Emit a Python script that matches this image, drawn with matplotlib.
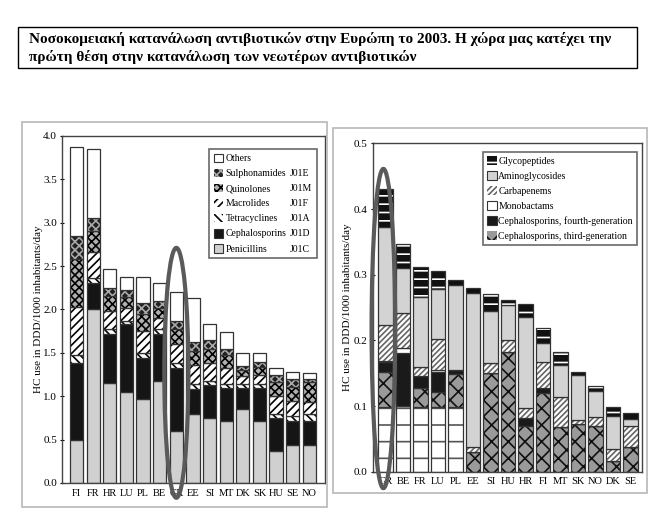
import matplotlib
matplotlib.use('Agg')
import matplotlib.pyplot as plt
import numpy as np
from matplotlib.patches import Patch, Rectangle, Ellipse

plt.rcParams['font.family'] = ['Liberation Serif', 'DejaVu Serif']
plt.rcParams['hatch.linewidth'] = 1.2

# Left chart: total hospital consumption by class (DDD/1000 inhabitants/day)
left_countries = ['FI', 'FR', 'HR', 'LU', 'PL', 'BE', 'GR', 'EE', 'SI', 'MT', 'DK', 'SK', 'HU', 'SE', 'NO']
penicillins = [0.50, 2.00, 1.15, 1.05, 0.97, 1.18, 0.60, 0.80, 0.75, 0.71, 0.85, 0.71, 0.37, 0.44, 0.44]
cephalosporins = [0.88, 0.31, 0.57, 0.78, 0.47, 0.54, 0.73, 0.28, 0.38, 0.39, 0.25, 0.39, 0.38, 0.28, 0.27]
tetracyclines = [0.10, 0.05, 0.06, 0.04, 0.06, 0.05, 0.05, 0.06, 0.05, 0.04, 0.04, 0.04, 0.05, 0.05, 0.08]
macrolides = [0.55, 0.30, 0.20, 0.15, 0.25, 0.13, 0.22, 0.22, 0.20, 0.18, 0.09, 0.11, 0.20, 0.18, 0.14]
quinolones = [0.55, 0.25, 0.17, 0.12, 0.20, 0.12, 0.17, 0.16, 0.17, 0.15, 0.07, 0.09, 0.16, 0.16, 0.23]
sulphonamides = [0.27, 0.15, 0.10, 0.08, 0.12, 0.08, 0.10, 0.10, 0.10, 0.08, 0.05, 0.06, 0.09, 0.09, 0.04]
others = [1.02, 0.79, 0.22, 0.16, 0.30, 0.20, 0.33, 0.51, 0.18, 0.19, 0.15, 0.10, 0.08, 0.08, 0.07]
left_names = ['Others', 'Sulphonamides', 'Quinolones', 'Macrolides', 'Tetracyclines', 'Cephalosporins', 'Penicillins']
left_codes = ['', 'J01E', 'J01M', 'J01F', 'J01A', 'J01D', 'J01C']

# Right chart: newer antibiotics
right_countries = ['GR', 'BE', 'FR', 'LU', 'PL', 'EE', 'SI', 'HU', 'HR', 'FI', 'MT', 'SK', 'NO', 'DK', 'SE']
base_white = [0.098, 0.100, 0.098, 0.098, 0.098, 0, 0, 0, 0, 0, 0, 0, 0, 0, 0]
ceph_third = [0.054, 0.000, 0.030, 0.024, 0.051, 0.030, 0.150, 0.183, 0.070, 0.120, 0.068, 0.073, 0.070, 0.016, 0.037]
ceph_fourth = [0.015, 0.080, 0.017, 0.030, 0.006, 0, 0, 0, 0.012, 0.008, 0, 0, 0, 0, 0]
monobactams = [0.002, 0.008, 0, 0.003, 0, 0, 0, 0, 0, 0, 0, 0, 0, 0, 0]
carbapenems = [0.055, 0.053, 0.015, 0.047, 0, 0.007, 0.015, 0.017, 0.015, 0.039, 0.045, 0.005, 0.013, 0.019, 0.032]
aminoglycosides = [0.148, 0.069, 0.106, 0.076, 0.130, 0.235, 0.080, 0.054, 0.139, 0.029, 0.049, 0.070, 0.040, 0.050, 0.011]
glycopeptides = [0.058, 0.037, 0.045, 0.027, 0.007, 0.008, 0.026, 0.007, 0.019, 0.023, 0.020, 0.004, 0.007, 0.013, 0.010]
right_names = ['Glycopeptides', 'Aminoglycosides', 'Carbapenems', 'Monobactams',
               'Cephalosporins, fourth-generation', 'Cephalosporins, third-generation']

title = ('Νοσοκομειακή κατανάλωση αντιβιοτικών στην Ευρώπη το 2003. Η χώρα μας κατέχει την\n'
         'πρώτη θέση στην κατανάλωση των νεωτέρων αντιβιοτικών')
ylabel = 'HC use in DDD/1000 inhabitants/day'

EDGE = '#333333'
styles = {
    'Penicillins': dict(color='#d0d0d0'),
    'Cephalosporins': dict(color='#151515'),
    'Tetracyclines': dict(color='white', hatch='\\\\\\\\', hc='black'),
    'Macrolides': dict(color='white', hatch='////', hc='black'),
    'Quinolones': dict(color='#b0b0b0', hatch='xxxx', hc='black'),
    'Sulphonamides': dict(color='#202020', hatch='xxxx', hc='#aaaaaa'),
    'Others': dict(color='white'),
    'base': dict(color='white', hatch='-', hc='#555555'),
    'Cephalosporins, third-generation': dict(color='#9a9a9a', hatch='xx', hc='#111111'),
    'Cephalosporins, fourth-generation': dict(color='#1a1a1a'),
    'Monobactams': dict(color='white'),
    'Carbapenems': dict(color='white', hatch='//////', hc='#666666'),
    'Aminoglycosides': dict(color='#d3d3d3'),
    'Glycopeptides': dict(color='#111111', hatch='--', hc='white'),
}


def draw_segment(ax, x, vals, bottom, st, width):
    if 'hatch' in st:
        ax.bar(x, vals, width, bottom=bottom, color=st['color'], edgecolor=st['hc'],
               hatch=st['hatch'], linewidth=0)
        ax.bar(x, vals, width, bottom=bottom, fill=False, edgecolor=EDGE, linewidth=0.9)
    else:
        ax.bar(x, vals, width, bottom=bottom, color=st['color'], edgecolor=EDGE, linewidth=0.9)


def legend_handle(st):
    if 'hatch' in st:
        return Patch(facecolor=st['color'], edgecolor=st['hc'], hatch=st['hatch'], linewidth=0)
    return Patch(facecolor=st['color'], edgecolor=EDGE, linewidth=0.8)


fig = plt.figure(figsize=(6.7, 5.25), dpi=100)

# title box and panel frames
fig.patches.append(Rectangle((0.027, 0.870), 0.924, 0.078, transform=fig.transFigure,
                             fill=False, edgecolor='black', linewidth=1.0))
fig.text(0.043, 0.909, title, fontsize=11, fontweight='bold', va='center', ha='left',
         linespacing=1.35)
fig.patches.append(Rectangle((0.033, 0.034), 0.455, 0.733, transform=fig.transFigure,
                             fill=False, edgecolor='#b8b8b8', linewidth=1.2))
fig.patches.append(Rectangle((0.497, 0.061), 0.469, 0.695, transform=fig.transFigure,
                             fill=False, edgecolor='#b8b8b8', linewidth=1.2))

# ---- left chart
ax1 = fig.add_axes([0.0925, 0.080, 0.3925, 0.661])
x1 = np.arange(len(left_countries))
layers1 = [('Penicillins', penicillins), ('Cephalosporins', cephalosporins),
           ('Tetracyclines', tetracyclines), ('Macrolides', macrolides),
           ('Quinolones', quinolones), ('Sulphonamides', sulphonamides), ('Others', others)]
bottom = np.zeros(len(x1))
for name, vals in layers1:
    draw_segment(ax1, x1, vals, bottom, styles[name], 0.8)
    bottom = bottom + np.array(vals)

ax1.set_xlim(-0.88, 14.94)
ax1.set_ylim(0, 4.0)
ax1.set_yticks(np.arange(0, 4.01, 0.5))
ax1.set_yticklabels(['%.1f' % v for v in np.arange(0, 4.01, 0.5)], fontsize=8)
ax1.set_xticks(x1)
ax1.set_xticklabels(left_countries, fontsize=7.5)
ax1.tick_params(axis='x', length=0, pad=4)
ax1.tick_params(axis='y', length=3, direction='inout', pad=2)
ax1.set_ylabel(ylabel, fontsize=8, labelpad=0.5)
for s in ax1.spines.values():
    s.set_color('#444444')
    s.set_linewidth(1.0)

handles = [legend_handle(styles[n]) for n in left_names]
blank = [Patch(visible=False) for _ in left_codes]
leg1 = ax1.legend(handles + blank, left_names + left_codes, ncol=2, loc='upper right',
                  bbox_to_anchor=(0.968, 0.963), fontsize=7, frameon=True, fancybox=False,
                  handlelength=0.9, handleheight=1.0, handletextpad=0.3, columnspacing=-0.9,
                  labelspacing=0.55, borderpad=0.5, borderaxespad=0, edgecolor='#444444')
leg1.get_frame().set_linewidth(1.2)

ax1.add_patch(Ellipse((6, 1.27), 1.45, 2.88, fill=False, edgecolor='#5a5a5a',
                      linewidth=3, clip_on=False, zorder=5))

# ---- right chart
ax2 = fig.add_axes([0.5563, 0.1015, 0.4015, 0.6255])
x2 = np.arange(len(right_countries))
layers2 = [('base', base_white), ('Cephalosporins, third-generation', ceph_third),
           ('Cephalosporins, fourth-generation', ceph_fourth), ('Monobactams', monobactams),
           ('Carbapenems', carbapenems), ('Aminoglycosides', aminoglycosides),
           ('Glycopeptides', glycopeptides)]
bottom = np.zeros(len(x2))
for name, vals in layers2:
    draw_segment(ax2, x2, vals, bottom, styles[name], 0.82)
    bottom = bottom + np.array(vals)

ax2.set_xlim(-0.73, 14.65)
ax2.set_ylim(0, 0.5)
ax2.set_yticks(np.arange(0, 0.51, 0.1))
ax2.set_yticklabels(['%.1f' % v for v in np.arange(0, 0.51, 0.1)], fontsize=8)
ax2.set_xticks(x2)
ax2.set_xticklabels(right_countries, fontsize=7.5)
ax2.tick_params(axis='x', length=0, pad=4)
ax2.tick_params(axis='y', length=3, direction='inout', pad=2)
ax2.set_ylabel(ylabel, fontsize=8, labelpad=1.5)
for s in ax2.spines.values():
    s.set_color('#444444')
    s.set_linewidth(1.0)

handles2 = [legend_handle(styles[n]) for n in right_names]
leg2 = ax2.legend(handles2, right_names, loc='upper right', bbox_to_anchor=(0.983, 0.974),
                  fontsize=7, frameon=True, fancybox=False, handlelength=1.0,
                  handleheight=1.0, handletextpad=0.15, labelspacing=0.55, borderpad=0.45,
                  borderaxespad=0, edgecolor='#444444')
leg2.get_frame().set_linewidth(1.2)

ax2.add_patch(Ellipse((-0.12, 0.218), 1.35, 0.486, fill=False, edgecolor='#5a5a5a',
                      linewidth=3, clip_on=False, zorder=5))

fig.savefig('out.png', dpi=100)
